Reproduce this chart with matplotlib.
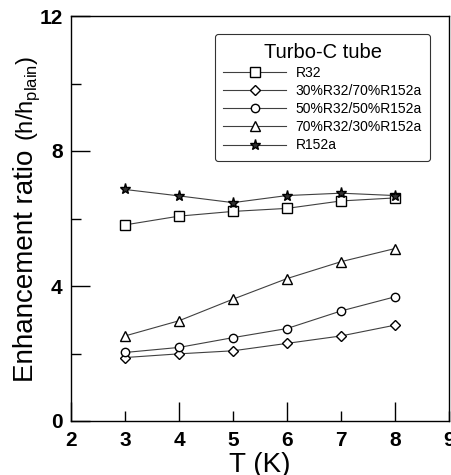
import matplotlib
matplotlib.use("Agg")
import matplotlib.pyplot as plt
from matplotlib.ticker import MultipleLocator

plt.rcParams['font.family'] = ['Liberation Sans', 'DejaVu Sans']
plt.rcParams['mathtext.fontset'] = 'custom'
plt.rcParams['mathtext.rm'] = 'Liberation Sans'

T = [3, 4, 5, 6, 7, 8]
r32 = [5.81, 6.07, 6.21, 6.30, 6.52, 6.61]
mix30 = [1.88, 1.99, 2.08, 2.30, 2.52, 2.84]
mix50 = [2.03, 2.18, 2.47, 2.74, 3.26, 3.68]
mix70 = [2.52, 2.97, 3.61, 4.22, 4.72, 5.11]
r152a = [6.86, 6.67, 6.47, 6.68, 6.75, 6.68]

labels = ['R32', '30%R32/70%R152a', '50%R32/50%R152a', '70%R32/30%R152a', 'R152a']
markers = ['s', 'D', 'o', '^', '*']
msizes = [6.5, 5.0, 6.0, 6.5, 8.0]
series = [r32, mix30, mix50, mix70, r152a]

W, H = 451, 475
fig = plt.figure(figsize=(W / 100, H / 100), dpi=100)
ax = fig.add_axes([71 / W, 1 - 421 / H, 378 / W, 405 / H])

for vals, lab, m, ms in zip(series, labels, markers, msizes):
    ax.plot(T, vals, color='#404040', lw=0.8, marker=m, ms=ms,
            mfc='white' if m != '*' else '#303030', mec='black', mew=1.0, label=lab)

ax.set_xlim(2, 9)
ax.set_ylim(0, 12)
ax.set_xticks([2, 3, 4, 5, 6, 7, 8, 9])
ax.set_xticklabels(['2', '3', '4', '5', '6', '7', '8', '9'])
ax.set_yticks([0, 4, 8, 12])
ax.yaxis.set_minor_locator(MultipleLocator(2))

ax.tick_params(which='both', direction='in', top=False, right=False, width=1.0)
ax.tick_params(which='major', length=14, labelsize=15)
ax.tick_params(axis='x', which='major', pad=7)
ax.tick_params(axis='y', which='major', pad=6)
ax.tick_params(which='minor', length=7)
for lbl in ax.get_xticklabels() + ax.get_yticklabels():
    lbl.set_fontweight('bold')
# odd x ticks are drawn short
for t, v in zip(ax.xaxis.get_major_ticks(), [2, 3, 4, 5, 6, 7, 8, 9]):
    if v % 2:
        t.tick1line.set_markersize(7)

for s in ax.spines.values():
    s.set_linewidth(1.0)

ax.set_xlabel('T (K)', fontsize=20, labelpad=2)

# y-axis title: large main text followed by a smaller unit part on the same baseline
fig.text(33 / W, 1 - 382 / H, 'Enhancement ratio', fontsize=20, rotation=90,
         rotation_mode='anchor', ha='left', va='baseline')
fig.text(33 / W, 1 - 141 / H, r'(h/h$_\mathregular{plain}$)', fontsize=17, rotation=90,
         rotation_mode='anchor', ha='left', va='baseline')

leg = ax.legend(title='Turbo-C tube', loc='upper right', bbox_to_anchor=(0.95, 0.955),
                borderaxespad=0, fontsize=10, title_fontsize=14.5, frameon=True,
                fancybox=True, edgecolor='black', handlelength=4.5, labelspacing=0.3,
                borderpad=0.6, handletextpad=0.7)
leg.get_frame().set_linewidth(0.8)

fig.savefig('out.png', dpi=100)
